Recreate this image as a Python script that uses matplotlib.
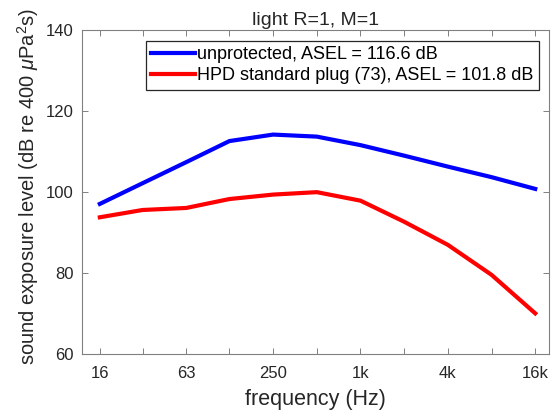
import matplotlib
matplotlib.use("Agg")
import matplotlib.pyplot as plt
import matplotlib.ticker as mticker

plt.rcParams['font.family'] = ['Liberation Sans', 'DejaVu Sans']
plt.rcParams['mathtext.fontset'] = 'custom'
plt.rcParams['mathtext.rm'] = 'Liberation Sans'
plt.rcParams['mathtext.it'] = 'Liberation Sans:italic'

freqs = [16, 31.5, 63, 125, 250, 500, 1000, 2000, 4000, 8000, 16000]
unprotected = [97.1, 102.2, 107.4, 112.6, 114.2, 113.7, 111.6, 109.0, 106.3, 103.7, 100.8]
hpd_plug = [93.8, 95.6, 96.1, 98.3, 99.4, 100.0, 97.9, 92.7, 87.0, 79.6, 70.1]
tick_vals = [16, 63, 250, 1000, 4000, 16000]
tick_labels = ['16', '63', '250', '1k', '4k', '16k']
yticks = [60, 80, 100, 120, 140]

fig = plt.figure(figsize=(5.53, 4.13), dpi=100)
ax = fig.add_axes([81.7/553, 1 - 354.3/413, (549.3-81.7)/553, (354.3-30)/413])

ax.plot(freqs, unprotected, color='#0000ff', lw=3.0, label='unprotected, ASEL = 116.6 dB')
ax.plot(freqs, hpd_plug, color='#ff0000', lw=3.0, label='HPD standard plug (73), ASEL = 101.8 dB')

ax.set_xscale('log')
ax.set_xlim(12, 20000)
ax.set_ylim(60, 140)
ax.set_xticks(freqs, minor=True)
ax.xaxis.set_minor_formatter(mticker.NullFormatter())
ax.set_xticks(tick_vals)
ax.set_xticklabels(tick_labels)
ax.set_yticks(yticks)

for s in ax.spines.values():
    s.set_color('#808080')
    s.set_linewidth(0.8)
ax.tick_params(which='both', direction='in', top=True, right=True, colors='#808080',
               labelcolor='#262626', labelsize=12, length=4, width=0.7)
ax.tick_params(axis='x', which='both', pad=8.5)
ax.tick_params(axis='y', which='both', pad=6)

ax.set_title('light R=1, M=1', fontsize=14, color='#262626', pad=3.6)
ax.set_xlabel('frequency (Hz)', fontsize=15.5, color='#262626', va='top')
ax.xaxis.set_label_coords(0.5, -0.108)
ax.set_ylabel(r'sound exposure level (dB re 400 $\mu$Pa$^2$s)', fontsize=14.5, color='#262626')
ax.yaxis.set_label_coords(-0.087, 0.516)

leg = ax.legend(loc='upper right', bbox_to_anchor=(0.978, 0.967), borderaxespad=0,
                fontsize=13, fancybox=False, framealpha=1, edgecolor='#262626',
                handlelength=2.4, handletextpad=0.15, borderpad=0.3, labelspacing=0.22)
leg.get_frame().set_linewidth(0.9)

fig.savefig('out.png', dpi=100)
